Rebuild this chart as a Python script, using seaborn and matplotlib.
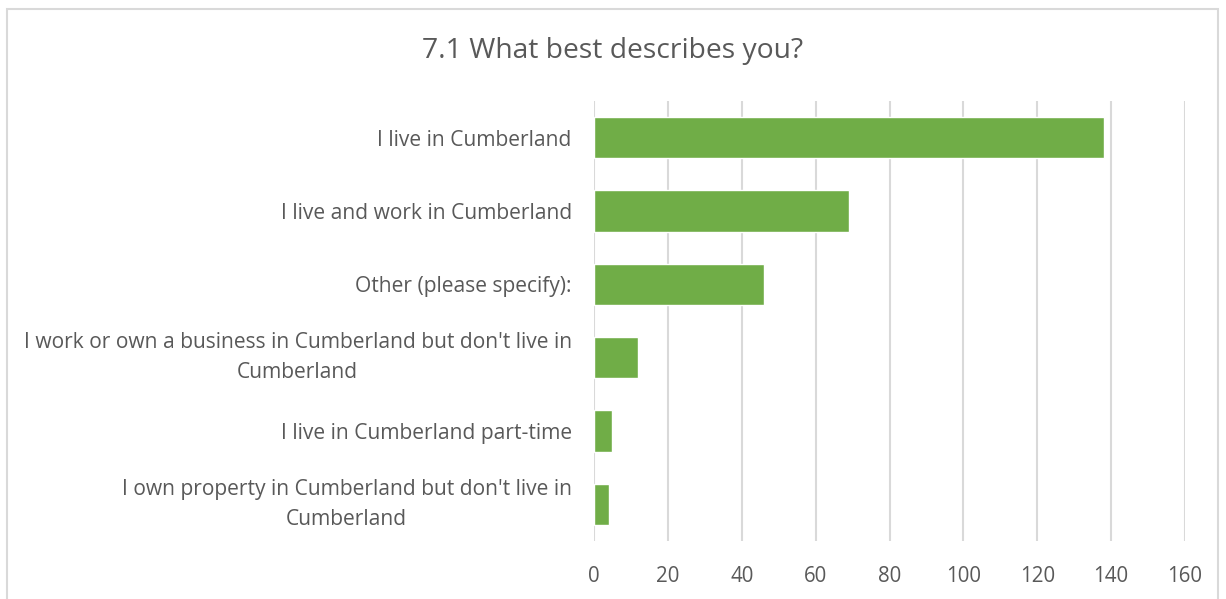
import matplotlib
matplotlib.use("Agg")
import matplotlib.pyplot as plt
import matplotlib.patches as mpatches
import seaborn as sns
import pandas as pd

categories = [
    "I live in Cumberland",
    "I live and work in Cumberland",
    "Other (please specify):",
    "I work or own a business in Cumberland but don't live in\nCumberland",
    "I live in Cumberland part-time",
    "I own property in Cumberland but don't live in\nCumberland",
]
counts = [138, 69, 46, 12, 5, 4]
x_ticks = [0, 20, 40, 60, 80, 100, 120, 140, 160]
title = "7.1 What best describes you?"

sns.set_theme(style="white")
plt.rcParams["font.family"] = ["Open Sans", "DejaVu Sans"]

df = pd.DataFrame({"category": categories, "count": counts})

W, H = 1226, 599
fig = plt.figure(figsize=(W / 100, H / 100), dpi=100)
ax = fig.add_axes([594 / W, 1 - 541 / H, (1185 - 594) / W, (541 - 101) / H])

sns.barplot(data=df, x="count", y="category", orient="h", color="#70AD47",
            width=0.56, saturation=1, ax=ax, zorder=3)

ax.set_xlim(0, 160)
ax.set_xticks(x_ticks)
ax.grid(axis="x", color="#D9D9D9", linewidth=1.5, zorder=0)
ax.grid(axis="y", visible=False)
for s in ax.spines.values():
    s.set_visible(False)
ax.set_xlabel("")
ax.set_ylabel("")
ax.tick_params(axis="x", length=0, pad=18, labelsize=14.8, labelcolor="#595959")
ax.tick_params(axis="y", length=0, pad=16, labelsize=15.1, labelcolor="#595959")
for lab in ax.get_yticklabels():
    lab.set_multialignment("center")
    lab.set_linespacing(1.6)
    if "\n" in lab.get_text():
        lab.set_verticalalignment("center")

fig.text(0.5, 1 - 51 / H, title, ha="center", va="center",
         fontsize=20.3, color="#595959")

rect = mpatches.Rectangle((7 / W, -0.05), (1218 - 7) / W, 1 - 9 / H + 0.05,
                          transform=fig.transFigure, fill=False,
                          edgecolor="#D9D9D9", linewidth=1.5, clip_on=False)
fig.patches.append(rect)

fig.savefig("out.png", dpi=100, facecolor="white")
